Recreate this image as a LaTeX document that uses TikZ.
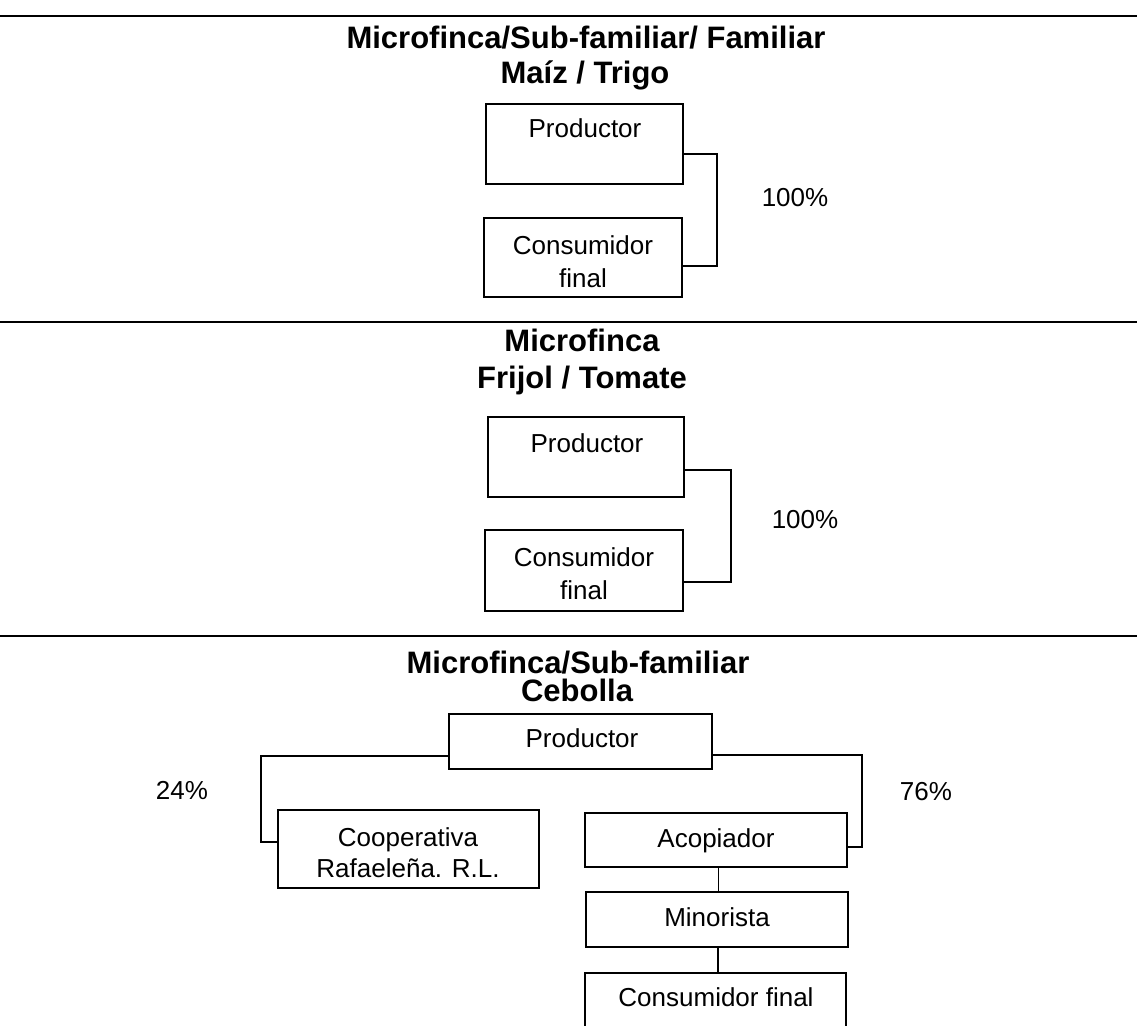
\documentclass[tikz,border=0pt]{standalone}
\usepackage{fontspec}
\setmainfont{Liberation Sans}
\begin{document}
\begin{tikzpicture}[x=1pt,y=-1pt,
  box/.style={draw, line width=2.4pt, inner sep=0pt},
  conn/.style={line width=1.7pt},
  rulebar/.style={line width=1.8pt},
  lbl/.style={font=\fontsize{26}{32}\selectfont, inner sep=0pt, align=center, anchor=base},
  ttl/.style={font=\bfseries\fontsize{31}{35}\selectfont, inner sep=0pt, anchor=base}]
\useasboundingbox (0,0) rectangle (1137,1025);
\clip (0,0) rectangle (1137,1025);
\fill[white] (0,0) rectangle (1137,1025);

% ---------- section 1 ----------
\draw[rulebar] (0,16) -- (1137,16);
\node[ttl] (t1a) at (586,48.1) {Microfinca/Sub-familiar/ Familiar};
\node[ttl] (t1b) at (585,83.1) {Maíz / Trigo};
\node[box, minimum width=197pt, minimum height=80pt] (p1) at (584.5,144) {};
\node[lbl] (p1t) at (585,137.3) {Productor};
\node[box, minimum width=198pt, minimum height=79pt] (c1) at (583,257.5) {};
\node[lbl, font=\fontsize{26}{33}\selectfont] (c1t) at (583,287.3) {Consumidor\\final};
\draw[conn] ([yshift=-10pt]p1.east) -- ++(33,0) |- ([yshift=-8.5pt]c1.east);
\node[lbl] (pc1) at (795,206.3) {100\%};

% ---------- section 2 ----------
\draw[rulebar] (0,322) -- (1137,322);
\node[ttl] (t2a) at (582,351.1) {Microfinca};
\node[ttl] (t2b) at (582,388.1) {Frijol / Tomate};
\node[box, minimum width=196pt, minimum height=80pt] (p2) at (586,457) {};
\node[lbl] (p2t) at (587,452.3) {Productor};
\node[box, minimum width=198pt, minimum height=81pt] (c2) at (584,570.5) {};
\node[lbl, font=\fontsize{26}{33}\selectfont] (c2t) at (584,599.3) {Consumidor\\final};
\draw[conn] ([yshift=-13pt]p2.east) -- ++(46,0) |- ([yshift=-11.5pt]c2.east);
\node[lbl] (pc2) at (805,528.3) {100\%};

% ---------- section 3 ----------
\draw[rulebar] (0,636) -- (1137,636);
\node[ttl] (t3a) at (578,673.1) {Microfinca/Sub-familiar};
\node[ttl] (t3b) at (577,701.1) {Cebolla};
\node[box, minimum width=263pt, minimum height=55pt] (p3) at (580.5,741.5) {};
\node[lbl] (p3t) at (582,747.3) {Productor};
\node[box, minimum width=261pt, minimum height=78pt] (coop) at (408.5,849) {};
\node[lbl, font=\fontsize{26}{31}\selectfont] (coopt) at (408,877.3) {Cooperativa\\Rafaeleña. R.L.};
\node[box, minimum width=262pt, minimum height=54pt] (acop) at (716,840) {};
\node[lbl] (acopt) at (716,847.3) {Acopiador};
\node[box, minimum width=262pt, minimum height=55pt] (mino) at (717,919.5) {};
\node[lbl] (minot) at (717,926.3) {Minorista};
\node[box, minimum width=261pt, minimum height=66pt] (cons) at (715.5,1006) {};
\node[lbl] (const) at (716,1006.3) {Consumidor final};
\draw[conn] ([yshift=-14.5pt]p3.west) -- ++(-187,0) |- ([yshift=7pt]coop.west);
\draw[conn] ([yshift=-13.5pt]p3.east) -- ++(149,0) |- ([yshift=-7pt]acop.east);
\draw[conn] ([xshift=2.5pt]acop.south) -- ([xshift=2.5pt]acop.south |- mino.north);
\draw[conn] ([xshift=1pt]mino.south) -- ([xshift=1pt]mino.south |- cons.north);
\node[lbl] (pc24) at (182,799.3) {24\%};
\node[lbl] (pc76) at (926,800.3) {76\%};
\end{tikzpicture}
\end{document}
